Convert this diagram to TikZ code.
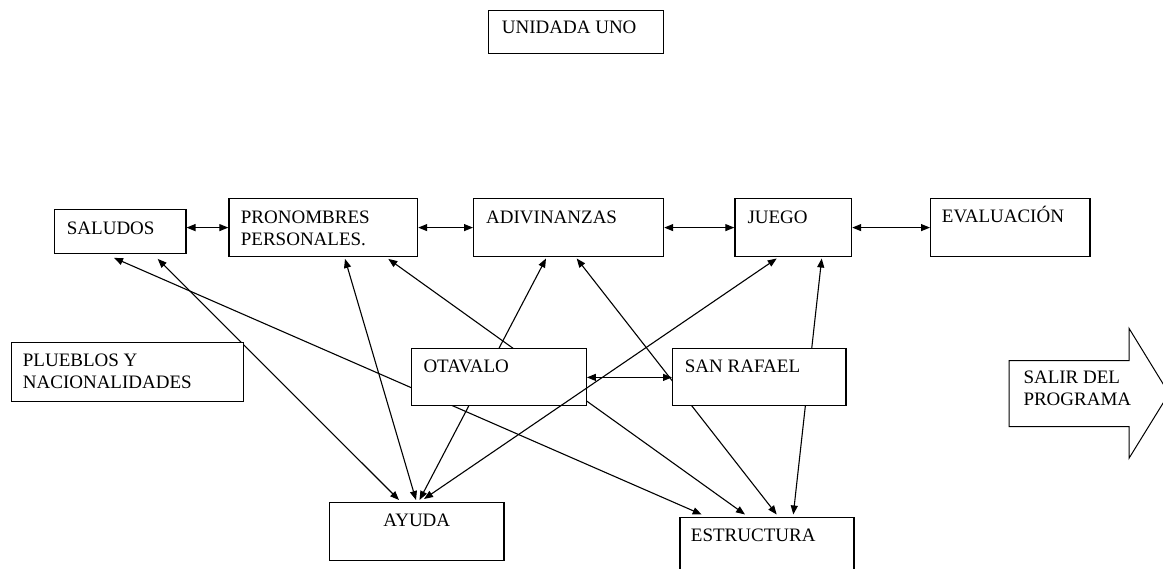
\documentclass[tikz,border=0pt]{standalone}
\usepackage{fontspec}
\setmainfont{Liberation Serif}
\usetikzlibrary{arrows.meta,calc,backgrounds}
\begin{document}
\begin{tikzpicture}[x=1pt,y=-1pt,
  box/.style={draw,line width=1.2pt,fill=white,rectangle,inner sep=0pt,anchor=north west},
  lbl/.style={anchor=base west,inner sep=0pt,font=\fontsize{19}{22}\selectfont,align=left},
  link/.style={line width=1.1pt,{Triangle[length=9pt,width=7pt]}-{Triangle[length=9pt,width=7pt]}}]
\useasboundingbox (0,0) rectangle (1163,569);
\clip (0,0) rectangle (1163,569);
% boxes
\node[box,minimum width=175.5pt,minimum height=43pt] (uni) at (487.5,10) {};
\node[box,minimum width=131.3pt,minimum height=44pt] (sal) at (54,209) {};
\node[box,minimum width=188.7pt,minimum height=58pt] (pro) at (228.3,198) {};
\node[box,minimum width=190pt,minimum height=58pt] (adi) at (473,198) {};
\node[box,minimum width=116.7pt,minimum height=58pt] (jue) at (734.3,198) {};
\node[box,minimum width=159.3pt,minimum height=58pt] (eva) at (930,198) {};
\node[box,minimum width=231.7pt,minimum height=58.7pt] (plu) at (11,342.3) {};
\node[box,minimum width=174.7pt,minimum height=57pt] (ota) at (411,348.3) {};
\node[box,minimum width=173.3pt,minimum height=57pt] (san) at (672,348.3) {};
\node[box,minimum width=174.3pt,minimum height=58.3pt] (ayu) at (329,501.7) {};
\node[box,minimum width=174pt,minimum height=70pt] (est) at (679.3,516.7) {};
% labels (two-line labels are anchored at the baseline of their last line)
\node[lbl] (uni-t) at ($(uni.north west)+(14.2,23.3)$) {UNIDADA UNO};
\node[lbl] (sal-t) at ($(sal.north west)+(12.7,25.3)$) {SALUDOS};
\node[lbl] (pro-t) at ($(pro.north west)+(12.4,47.3)$) {PRONOMBRES\\PERSONALES.};
\node[lbl] (adi-t) at ($(adi.north west)+(13,25.3)$) {ADIVINANZAS};
\node[lbl] (jue-t) at ($(jue.north west)+(13,25.3)$) {JUEGO};
\node[lbl] (eva-t) at ($(eva.north west)+(11.7,25)$) {EVALUACIÓN};
\node[lbl] (plu-t) at ($(plu.north west)+(11.7,46.7)$) {PLUEBLOS Y\\NACIONALIDADES};
\node[lbl] (ota-t) at ($(ota.north west)+(12.3,24)$) {OTAVALO};
\node[lbl] (san-t) at ($(san.north west)+(12.7,24)$) {SAN RAFAEL};
\node[lbl,anchor=base] (ayu-t) at ($(ayu.north)+(0,25)$) {AYUDA};
\node[lbl] (est-t) at ($(est.north west)+(11.4,24.3)$) {ESTRUCTURA};
% exit arrow
\draw[line width=1pt,fill=white] (1009,360.7) -- (1129,360.7) -- (1129,328.3) -- (1169,393.5)
  -- (1129,458.3) -- (1129,426.7) -- (1009,426.7) -- cycle;
\node[lbl] (sal-p) at (1023.3,405.3) {SALIR DEL\\PROGRAMA};
% connectors behind boxes
\begin{scope}[on background layer]
\draw[link] ($(sal.south west)+(60,3.7)$) -- ($(est.north west)+(22.4,-2.2)$);
\draw[link] ($(sal.south west)+(103.7,4.7)$) -- ($(ayu.north west)+(70,-1.7)$);
\draw[link] ($(pro.south west)+(116.7,1.7)$) -- ($(ayu.north west)+(87,-1.7)$);
\draw[link] ($(pro.south west)+(160,1.7)$) -- ($(est.north west)+(65.7,-2.2)$);
\draw[link] ($(adi.south west)+(73,1.3)$) -- ($(ayu.north west)+(90.5,-1.7)$);
\draw[link] ($(adi.south west)+(103.7,1.3)$) -- ($(est.north west)+(97.4,-2.2)$);
\draw[link] ($(jue.south west)+(87.4,1.3)$) -- ($(est.north west)+(114,-2.2)$);
\end{scope}
% connectors on top
\draw[link] ($(jue.south west)+(42.4,1.3)$) -- ($(ayu.north west)+(95,-2.7)$);
\draw[link] (sal.east |- pro.west) -- (pro.west);
\draw[link] (pro.east) -- (adi.west);
\draw[link] (adi.east) -- (jue.west);
\draw[link] (jue.east) -- (eva.west);
\draw[link] (ota.east) -- (san.west);
\end{tikzpicture}
\end{document}
